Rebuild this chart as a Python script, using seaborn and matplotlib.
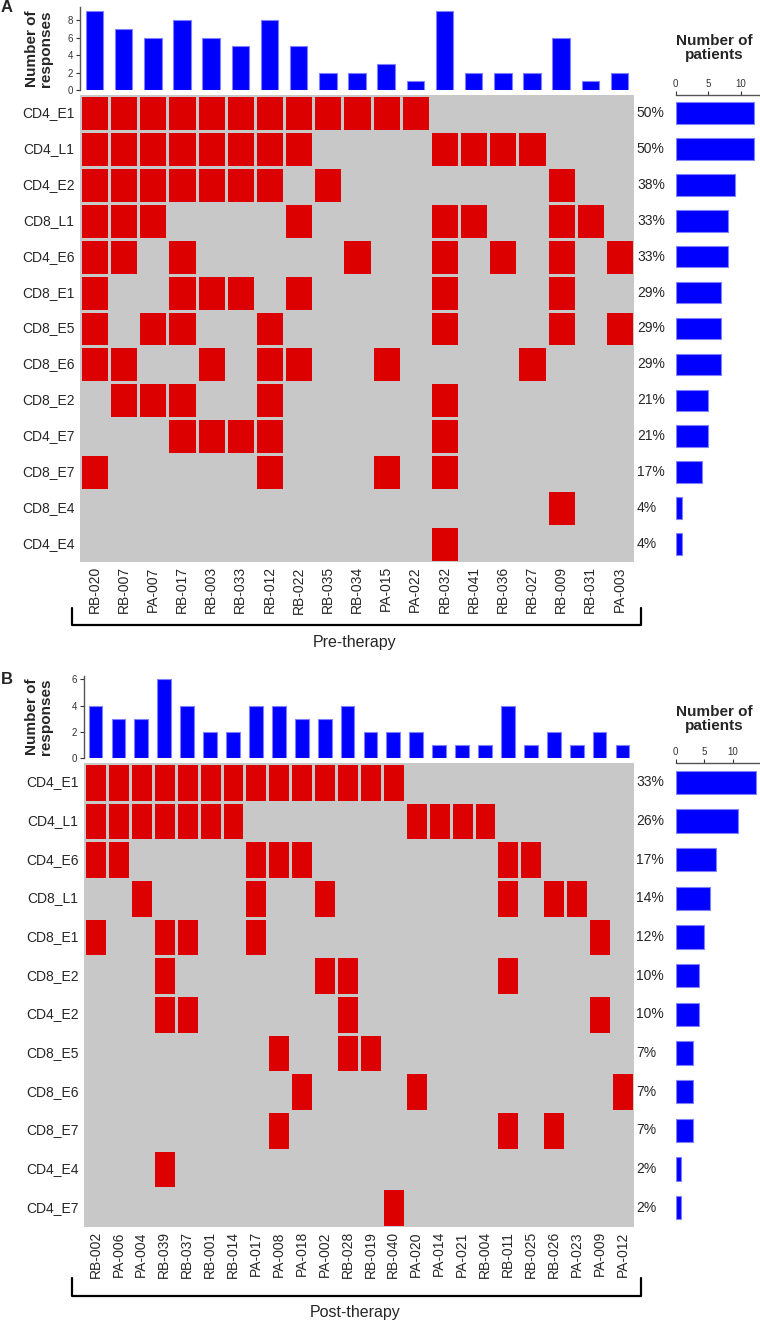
import matplotlib
matplotlib.use("Agg")
import numpy as np
import pandas as pd
import seaborn as sns
import matplotlib.pyplot as plt
from matplotlib.colors import ListedColormap
from matplotlib.lines import Line2D

# ---- panel A: pre-therapy ----
pre_patients = ["RB-020", "RB-007", "PA-007", "RB-017", "RB-003", "RB-033", "RB-012",
                "RB-022", "RB-035", "RB-034", "PA-015", "PA-022", "RB-032", "RB-041",
                "RB-036", "RB-027", "RB-009", "RB-031", "PA-003"]
pre_responses = [9, 7, 6, 8, 6, 5, 8, 5, 2, 2, 3, 1, 9, 2, 2, 2, 6, 1, 2]
pre_epitopes = ["CD4_E1", "CD4_L1", "CD4_E2", "CD8_L1", "CD4_E6", "CD8_E1", "CD8_E5",
                "CD8_E6", "CD8_E2", "CD4_E7", "CD8_E7", "CD8_E4", "CD4_E4"]
pre_n_patients = [12, 12, 9, 8, 8, 7, 7, 7, 5, 5, 4, 1, 1]
pre_pct = ["50%", "50%", "38%", "33%", "33%", "29%", "29%", "29%", "21%", "21%", "17%", "4%", "4%"]
pre_matrix = [
    [1, 1, 1, 1, 1, 1, 1, 1, 1, 1, 1, 1, 0, 0, 0, 0, 0, 0, 0],
    [1, 1, 1, 1, 1, 1, 1, 1, 0, 0, 0, 0, 1, 1, 1, 1, 0, 0, 0],
    [1, 1, 1, 1, 1, 1, 1, 0, 1, 0, 0, 0, 0, 0, 0, 0, 1, 0, 0],
    [1, 1, 1, 0, 0, 0, 0, 1, 0, 0, 0, 0, 1, 1, 0, 0, 1, 1, 0],
    [1, 1, 0, 1, 0, 0, 0, 0, 0, 1, 0, 0, 1, 0, 1, 0, 1, 0, 1],
    [1, 0, 0, 1, 1, 1, 0, 1, 0, 0, 0, 0, 1, 0, 0, 0, 1, 0, 0],
    [1, 0, 1, 1, 0, 0, 1, 0, 0, 0, 0, 0, 1, 0, 0, 0, 1, 0, 1],
    [1, 1, 0, 0, 1, 0, 1, 1, 0, 0, 1, 0, 0, 0, 0, 1, 0, 0, 0],
    [0, 1, 1, 1, 0, 0, 1, 0, 0, 0, 0, 0, 1, 0, 0, 0, 0, 0, 0],
    [0, 0, 0, 1, 1, 1, 1, 0, 0, 0, 0, 0, 1, 0, 0, 0, 0, 0, 0],
    [1, 0, 0, 0, 0, 0, 1, 0, 0, 0, 1, 0, 1, 0, 0, 0, 0, 0, 0],
    [0, 0, 0, 0, 0, 0, 0, 0, 0, 0, 0, 0, 0, 0, 0, 0, 1, 0, 0],
    [0, 0, 0, 0, 0, 0, 0, 0, 0, 0, 0, 0, 1, 0, 0, 0, 0, 0, 0],
]

# ---- panel B: post-therapy ----
post_patients = ["RB-002", "PA-006", "PA-004", "RB-039", "RB-037", "RB-001", "RB-014",
                 "PA-017", "PA-008", "PA-018", "PA-002", "RB-028", "RB-019", "RB-040",
                 "PA-020", "PA-014", "PA-021", "RB-004", "RB-011", "RB-025", "RB-026",
                 "PA-023", "PA-009", "PA-012"]
post_responses = [4, 3, 3, 6, 4, 2, 2, 4, 4, 3, 3, 4, 2, 2, 2, 1, 1, 1, 4, 1, 2, 1, 2, 1]
post_epitopes = ["CD4_E1", "CD4_L1", "CD4_E6", "CD8_L1", "CD8_E1", "CD8_E2", "CD4_E2",
                 "CD8_E5", "CD8_E6", "CD8_E7", "CD4_E4", "CD4_E7"]
post_n_patients = [14, 11, 7, 6, 5, 4, 4, 3, 3, 3, 1, 1]
post_pct = ["33%", "26%", "17%", "14%", "12%", "10%", "10%", "7%", "7%", "7%", "2%", "2%"]
post_matrix = [
    [1, 1, 1, 1, 1, 1, 1, 1, 1, 1, 1, 1, 1, 1, 0, 0, 0, 0, 0, 0, 0, 0, 0, 0],
    [1, 1, 1, 1, 1, 1, 1, 0, 0, 0, 0, 0, 0, 0, 1, 1, 1, 1, 0, 0, 0, 0, 0, 0],
    [1, 1, 0, 0, 0, 0, 0, 1, 1, 1, 0, 0, 0, 0, 0, 0, 0, 0, 1, 1, 0, 0, 0, 0],
    [0, 0, 1, 0, 0, 0, 0, 1, 0, 0, 1, 0, 0, 0, 0, 0, 0, 0, 1, 0, 1, 1, 0, 0],
    [1, 0, 0, 1, 1, 0, 0, 1, 0, 0, 0, 0, 0, 0, 0, 0, 0, 0, 0, 0, 0, 0, 1, 0],
    [0, 0, 0, 1, 0, 0, 0, 0, 0, 0, 1, 1, 0, 0, 0, 0, 0, 0, 1, 0, 0, 0, 0, 0],
    [0, 0, 0, 1, 1, 0, 0, 0, 0, 0, 0, 1, 0, 0, 0, 0, 0, 0, 0, 0, 0, 0, 1, 0],
    [0, 0, 0, 0, 0, 0, 0, 0, 1, 0, 0, 1, 1, 0, 0, 0, 0, 0, 0, 0, 0, 0, 0, 0],
    [0, 0, 0, 0, 0, 0, 0, 0, 0, 1, 0, 0, 0, 0, 1, 0, 0, 0, 0, 0, 0, 0, 0, 1],
    [0, 0, 0, 0, 0, 0, 0, 0, 1, 0, 0, 0, 0, 0, 0, 0, 0, 0, 1, 0, 1, 0, 0, 0],
    [0, 0, 0, 1, 0, 0, 0, 0, 0, 0, 0, 0, 0, 0, 0, 0, 0, 0, 0, 0, 0, 0, 0, 0],
    [0, 0, 0, 0, 0, 0, 0, 0, 0, 0, 0, 0, 0, 1, 0, 0, 0, 0, 0, 0, 0, 0, 0, 0],
]

sns.set_style("white")
plt.rcParams["font.family"] = ["Liberation Sans", "DejaVu Sans"]

W, H = 760, 1323
fig = plt.figure(figsize=(W / 100, H / 100), dpi=100)

BLUE = "#0000FF"
RED = "#DD0000"
GRAY = "#C8C8C8"


def box(l, t, r, b):
    return fig.add_axes([l / W, 1 - b / H, (r - l) / W, (b - t) / H])


def fig_line(xs, ys):
    fig.add_artist(Line2D([x / W for x in xs], [1 - y / H for y in ys],
                          color="black", lw=1.6, solid_joinstyle="round"))


def draw_panel(letter, patients, responses, epitopes, matrix, n_pat, pct, group,
               left, bar_top, bar_bot, heat_top, heat_bot, bar_ymax, yticks,
               pat_xmax, label_x, letter_y, title_y, brk_top, brk_bot, group_y):
    # top bars: responses per patient
    ax_top = box(left, bar_top, 634, bar_bot)
    sns.barplot(x=patients, y=responses, color=BLUE, saturation=1, width=0.6,
                edgecolor="#8080ff", linewidth=0.8, ax=ax_top)
    ax_top.set_xlim(-0.5, len(patients) - 0.5)
    ax_top.set_ylim(0, bar_ymax)
    ax_top.set_xticks([])
    ax_top.set_yticks(yticks)
    ax_top.tick_params(axis="y", labelsize=7, length=3, width=0.8, pad=2,
                       colors="#333333", left=True)
    for s in ["top", "right", "bottom"]:
        ax_top.spines[s].set_visible(False)
    ax_top.spines["left"].set_color("#555555")
    ax_top.spines["left"].set_linewidth(1)
    ax_top.set_ylabel("Number of\nresponses", fontsize=11, fontweight="bold",
                      linespacing=1.0)
    ax_top.yaxis.set_label_coords(label_x, 0.5)

    # heatmap of responses (gray background, red = response)
    ax_h = box(left, heat_top, 634, heat_bot)
    df = pd.DataFrame(matrix, index=epitopes, columns=patients)
    sns.heatmap(df, mask=(df == 0), cmap=ListedColormap([RED]), cbar=False,
                linewidths=2, linecolor=GRAY, ax=ax_h)
    ax_h.set_facecolor(GRAY)
    ax_h.tick_params(axis="both", length=0, labelsize=10)
    ax_h.tick_params(axis="x", pad=3)
    ax_h.tick_params(axis="y", pad=4)
    ax_h.set_xticklabels(patients, rotation=90)
    ax_h.set_yticklabels(epitopes, rotation=0)
    ax_h.set_xlabel("")
    ax_h.set_ylabel("")
    for i, p in enumerate(pct):
        ax_h.text(len(patients) + 0.1, i + 0.5, p, ha="left", va="center",
                  fontsize=10, clip_on=False)

    # right bars: number of patients per epitope
    ax_r = box(675.7, heat_top, 759, heat_bot)
    sns.barplot(x=n_pat, y=epitopes, orient="h", color=BLUE, saturation=1,
                width=0.6, edgecolor="#8080ff", linewidth=0.8, ax=ax_r)
    ax_r.set_ylim(len(epitopes) - 0.5, -0.5)
    ax_r.set_xlim(0, pat_xmax)
    ax_r.set_xticks([0, 5, 10])
    ax_r.xaxis.tick_top()
    ax_r.tick_params(axis="x", labelsize=7, length=3, width=0.8, pad=1,
                     colors="#333333", top=True)
    ax_r.set_yticks([])
    ax_r.set_xlabel("")
    ax_r.set_ylabel("")
    for s in ["bottom", "right", "left"]:
        ax_r.spines[s].set_visible(False)
    ax_r.spines["top"].set_color("#555555")
    ax_r.spines["top"].set_linewidth(1)
    fig.text(714 / W, 1 - title_y / H, "Number of\npatients", ha="center",
             va="center", fontsize=11, fontweight="bold", linespacing=1.05)

    # bracket and group label
    fig_line([72, 72, 641, 641], [brk_top, brk_bot, brk_bot, brk_top])
    fig.text(355 / W, 1 - group_y / H, group, ha="center", va="center", fontsize=11.5)
    fig.text(1 / W, 1 - letter_y / H, letter, ha="left", va="center",
             fontsize=12, fontweight="bold")


draw_panel("A", pre_patients, pre_responses, pre_epitopes, pre_matrix, pre_n_patients,
           pre_pct, "Pre-therapy", left=80, bar_top=7, bar_bot=90, heat_top=95,
           heat_bot=562, bar_ymax=9.5, yticks=[0, 2, 4, 6, 8], pat_xmax=12.75,
           label_x=-0.049, letter_y=8, title_y=48, brk_top=608, brk_bot=625,
           group_y=643)

draw_panel("B", post_patients, post_responses, post_epitopes, post_matrix, post_n_patients,
           post_pct, "Post-therapy", left=84, bar_top=676, bar_bot=758, heat_top=763,
           heat_bot=1227, bar_ymax=6.25, yticks=[0, 2, 4, 6], pat_xmax=14.6,
           label_x=-0.056, letter_y=679, title_y=719, brk_top=1278, brk_bot=1296,
           group_y=1313)

fig.savefig("out.png", dpi=100)
